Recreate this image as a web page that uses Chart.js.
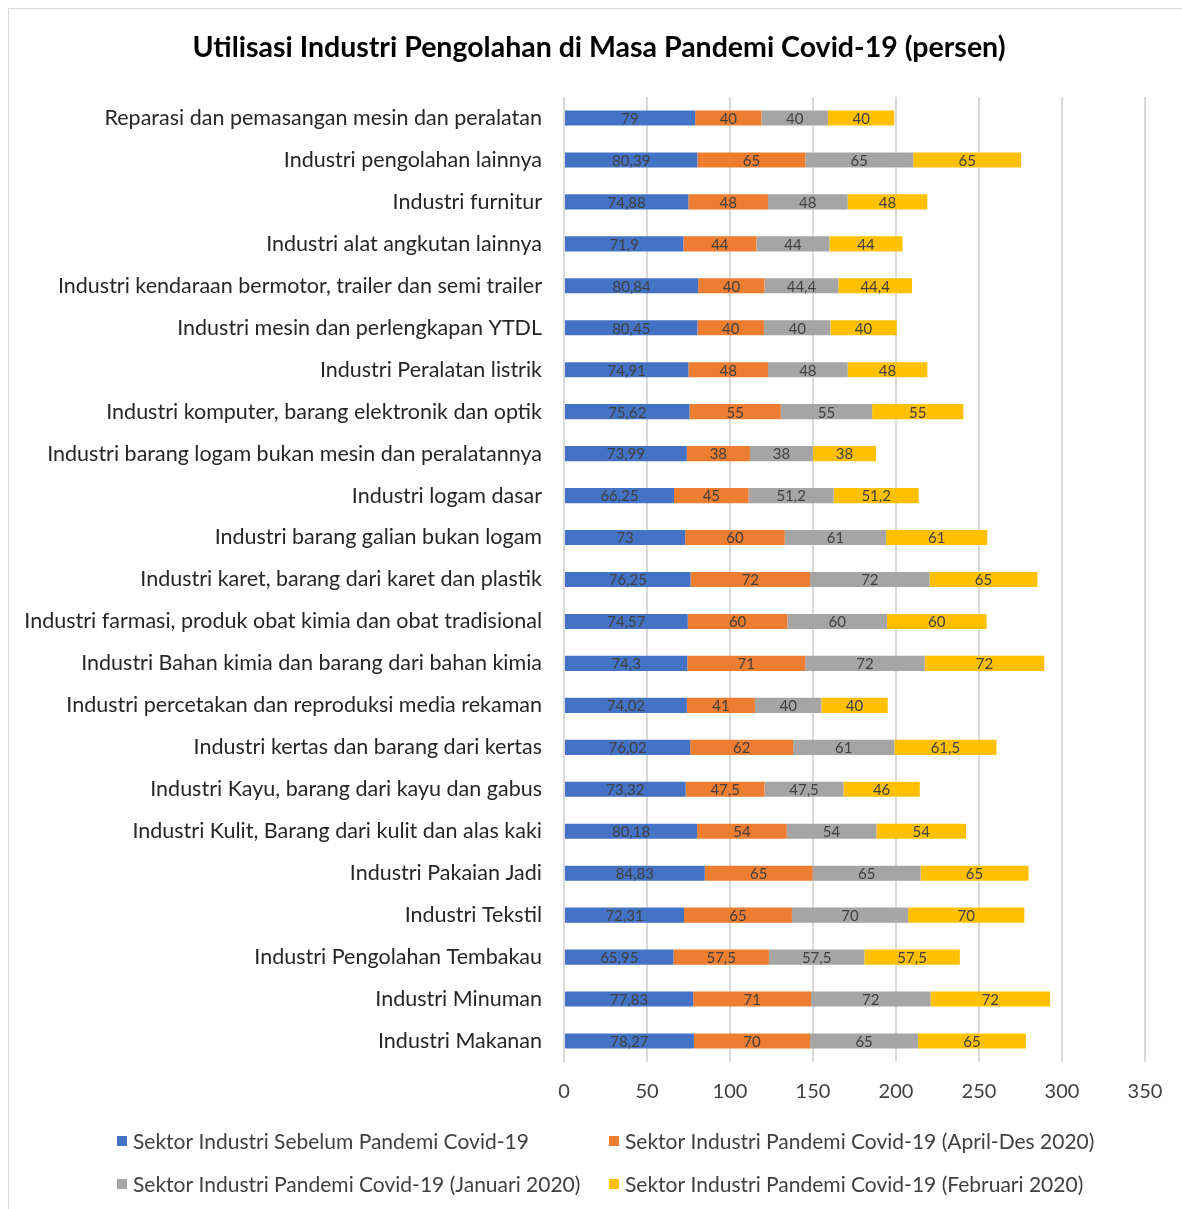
<!DOCTYPE html>
<html>
<head>
<meta charset="utf-8">
<script src="https://cdn.jsdelivr.net/npm/chart.js@4/dist/chart.umd.min.js"></script>
<style>
  html, body { margin: 0; padding: 0; background: #fff; }
  #wrap { width: 1182px; height: 1209px; }
</style>
</head>
<body>
<div id="wrap"><canvas id="utilChart" width="1182" height="1209"></canvas></div>
<script>
const chartTitle = 'Utilisasi Industri Pengolahan di Masa Pandemi Covid-19 (persen)';
const categories = [
    'Reparasi dan pemasangan mesin dan peralatan',
    'Industri pengolahan lainnya',
    'Industri furnitur',
    'Industri alat angkutan lainnya',
    'Industri kendaraan bermotor, trailer dan semi trailer',
    'Industri mesin dan perlengkapan YTDL',
    'Industri Peralatan listrik',
    'Industri komputer, barang elektronik dan optik',
    'Industri barang logam bukan mesin dan peralatannya',
    'Industri logam dasar',
    'Industri barang galian bukan logam',
    'Industri karet, barang dari karet dan plastik',
    'Industri farmasi, produk obat kimia dan obat tradisional',
    'Industri Bahan kimia dan barang dari bahan kimia',
    'Industri percetakan dan reproduksi media rekaman',
    'Industri kertas dan barang dari kertas',
    'Industri Kayu, barang dari kayu dan gabus',
    'Industri Kulit, Barang dari kulit dan alas kaki',
    'Industri Pakaian Jadi',
    'Industri Tekstil',
    'Industri Pengolahan Tembakau',
    'Industri Minuman',
    'Industri Makanan'
];
const seriesNames = [
    'Sektor Industri Sebelum Pandemi Covid-19',
    'Sektor Industri Pandemi Covid-19 (April-Des 2020)',
    'Sektor Industri Pandemi Covid-19 (Januari 2020)',
    'Sektor Industri Pandemi Covid-19 (Februari 2020)'
];
const sebelumPandemi = [79, 80.39, 74.88, 71.9, 80.84, 80.45, 74.91, 75.62, 73.99, 66.25, 73, 76.25, 74.57, 74.3, 74.02, 76.02, 73.32, 80.18, 84.83, 72.31, 65.95, 77.83, 78.27];
const aprilDes2020 = [40, 65, 48, 44, 40, 40, 48, 55, 38, 45, 60, 72, 60, 71, 41, 62, 47.5, 54, 65, 65, 57.5, 71, 70];
const januari2020 = [40, 65, 48, 44, 44.4, 40, 48, 55, 38, 51.2, 61, 72, 60, 72, 40, 61, 47.5, 54, 65, 70, 57.5, 72, 65];
const februari2020 = [40, 65, 48, 44, 44.4, 40, 48, 55, 38, 51.2, 61, 65, 60, 72, 40, 61.5, 46, 54, 65, 70, 57.5, 72, 65];
const xTicks = [0, 50, 100, 150, 200, 250, 300, 350];
const colors = ['#4472C4', '#ED7D31', '#A5A5A5', '#FFC000'];

const FONT = 'Lato, "Open Sans", sans-serif';

// frame + title (title is off-centre in the original, so drawn by hand)
const framePlugin = {
    id: 'frame',
    beforeDraw(chart) {
        const c = chart.ctx;
        c.save();
        c.fillStyle = '#fff';
        c.fillRect(0, 0, chart.width, chart.height);
        c.strokeStyle = '#d9d9d9';
        c.lineWidth = 1;
        c.strokeRect(8.5, 8.5, chart.width + 20, chart.height + 20);
        c.font = 'bold 28.5px ' + FONT;
        c.fillStyle = '#000';
        c.textAlign = 'center';
        c.textBaseline = 'middle';
        c.fillText(chartTitle, 599, 48);
        c.restore();
    }
};

// value labels centred in each bar segment
const segmentLabels = {
    id: 'segmentLabels',
    afterDatasetsDraw(chart) {
        const c = chart.ctx;
        c.save();
        c.font = '15px ' + FONT;
        c.fillStyle = '#404040';
        c.textAlign = 'center';
        c.textBaseline = 'middle';
        chart.data.datasets.forEach((ds, i) => {
            chart.getDatasetMeta(i).data.forEach((bar, j) => {
                const txt = String(ds.data[j]).replace('.', ',');
                c.fillText(txt, (bar.x + bar.base) / 2, bar.y + 1);
            });
        });
        c.restore();
    }
};

// two-column legend under the axis
const gridLegend = {
    id: 'gridLegend',
    afterDraw(chart) {
        const c = chart.ctx;
        const cols = [118, 610];
        const rows = [1141, 1184];
        c.save();
        c.font = '21px ' + FONT;
        c.textBaseline = 'middle';
        seriesNames.forEach((name, i) => {
            const x = cols[i % 2], y = rows[Math.floor(i / 2)];
            c.fillStyle = colors[i];
            c.fillRect(x - 1, y - 5, 10, 10);
            c.fillStyle = '#404040';
            c.fillText(name, x + 15, y + 1);
        });
        c.restore();
    }
};

const datasets = [sebelumPandemi, aprilDes2020, januari2020, februari2020].map((vals, i) => ({
    label: seriesNames[i],
    data: vals,
    backgroundColor: colors[i],
    borderWidth: 0,
    barPercentage: 0.36,
    categoryPercentage: 1
}));

const ctx = document.getElementById('utilChart').getContext('2d');
const utilChart = new Chart(ctx, {
    type: 'bar',
    data: { labels: categories, datasets: datasets },
    plugins: [framePlugin, segmentLabels, gridLegend],
    options: {
        indexAxis: 'y',
        responsive: false,
        animation: false,
        layout: { padding: { left: 10, right: 37, top: 97, bottom: 87 } },
        scales: {
            x: {
                stacked: true,
                min: 0,
                max: 350,
                afterBuildTicks(axis) { axis.ticks = xTicks.map(v => ({ value: v })); },
                grid: { color: '#d9d9d9', lineWidth: 2, drawTicks: false },
                border: { display: false },
                ticks: { color: '#404040', font: { family: FONT, size: 20 }, padding: 18 }
            },
            y: {
                stacked: true,
                afterFit(axis) { axis.width = 554; },
                grid: { display: false },
                border: { display: false },
                ticks: { color: '#262626', font: { family: FONT, size: 21.5 }, padding: 14, autoSkip: false }
            }
        },
        plugins: {
            legend: { display: false },
            tooltip: { enabled: false },
            title: { display: false }
        }
    }
});
</script>
</body>
</html>
